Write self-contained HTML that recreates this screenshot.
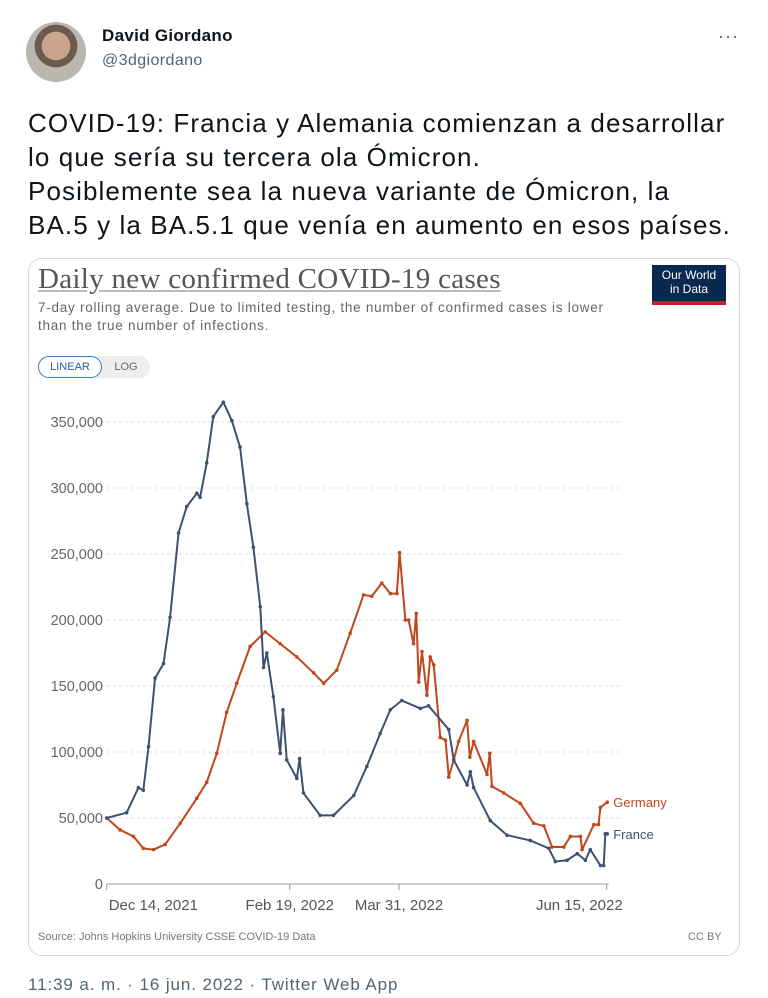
<!DOCTYPE html>
<html><head><meta charset="utf-8"><style>
body{margin:0;width:768px;height:998px;background:#fff;font-family:"Liberation Sans",sans-serif;position:relative;overflow:hidden}
.a{position:absolute}
</style></head><body>
<div class="a" style="left:26px;top:22px;width:60px;height:60px;border-radius:50%;background:radial-gradient(circle at 50% 40%,#c9a58c 0 30%,#6b5a4e 31% 45%,#b9b7b0 46%)"></div>
<div class="a" style="left:102px;top:26px;font-weight:bold;font-size:17px;color:#0f1419;letter-spacing:0.3px">David Giordano</div>
<div class="a" style="left:102px;top:52px;font-size:16px;color:#536471;letter-spacing:0.4px">@3dgiordano</div>
<div class="a" style="left:718px;top:26px;font-size:18px;color:#536471;letter-spacing:1px">···</div>
<div class="a" style="left:28px;top:106px;width:740px;font-size:26px;letter-spacing:1.1px;line-height:34px;color:#0f1419;white-space:nowrap">COVID-19: Francia y Alemania comienzan a desarrollar<br>lo que sería su tercera ola Ómicron.<br>Posiblemente sea la nueva variante de Ómicron, la<br>BA.5 y la BA.5.1 que venía en aumento en esos países.</div>
<div class="a" style="left:28px;top:258px;width:710px;height:696px;border:1px solid #cfd9de;border-radius:14px"></div>
<div class="a" style="left:38px;top:263px;font-family:'Liberation Serif',serif;font-size:29px;letter-spacing:0.3px;color:#555;text-decoration:underline;text-decoration-color:#bbb;white-space:nowrap">Daily new confirmed COVID-19 cases</div>
<div class="a" style="left:652px;top:265px;width:74px;height:40px;background:#0b2850;color:#fff;font-size:12px;line-height:14px;text-align:center;padding-top:3px;box-sizing:border-box;border-bottom:4px solid #c0202f">Our World<br>in Data</div>
<div class="a" style="left:38px;top:299px;font-size:13.5px;letter-spacing:0.75px;line-height:18px;color:#666;white-space:nowrap">7-day rolling average. Due to limited testing, the number of confirmed cases is lower<br>than the true number of infections.</div>
<div class="a" style="left:38px;top:356px;width:112px;height:22px;border-radius:11px;background:#eee"></div>
<div class="a" style="left:38px;top:356px;width:62px;height:20px;border:1px solid #3a7ebf;border-radius:11px;background:#fff;color:#2a5b9b;font-size:11px;line-height:20px;text-align:center">LINEAR</div>
<div class="a" style="left:106px;top:356px;width:40px;height:22px;color:#666;font-size:11px;line-height:22px;text-align:center">LOG</div>
<svg class="a" style="left:0;top:0" width="768" height="998" id="plot"></svg>
<div class="a" style="left:38px;top:931px;font-size:11px;color:#777">Source: Johns Hopkins University CSSE COVID-19 Data</div>
<div class="a" style="left:688px;top:931px;font-size:11px;color:#777">CC BY</div>
<div class="a" style="left:28px;top:975px;font-size:17px;letter-spacing:0.9px;color:#536471;white-space:nowrap">11:39 a. m. · 16 jun. 2022 · Twitter Web App</div>
<script>
const yTicks=[0,50000,100000,150000,200000,250000,300000,350000];
const yTickLabels=["0","50,000","100,000","150,000","200,000","250,000","300,000","350,000"];
const xTicks=[0,67,107,183];
const xTickLabels=["Dec 14, 2021","Feb 19, 2022","Mar 31, 2022","Jun 15, 2022"];
const franceDays=[0,7.3,11.6,13.4,15.3,17.7,20.8,23.2,26.3,29.3,33,34.2,36.6,39,42.7,45.8,48.8,51.3,53.7,56.2,57.4,58.6,61,63.5,64.5,65.9,69.6,70.6,72,78.1,83,90.4,95.2,100.1,103.8,108,114.8,117.8,125.2,127,131.9,133.1,134.3,140.4,146.5,155,161.8,164.2,168.5,172.2,175.2,177,180.7,181.9,182.5,183.2];
const franceCases=[50,54,73,71,104,156,167,202,266,286,296,293,319,354,365,351,331,288,255,210,164,175,142,99,132,94,80,95,69,52,52,67,89,114,132,139,133,135,117,94,75,85,73,48,37,33,27,17,18,23,18,26,14,14,38,38].map(v=>v*1000);
const germanyDays=[0,4.9,9.8,13.4,17.1,21.4,26.9,33,36.6,40.3,43.9,47.6,52.5,58,63.5,69.6,75.7,79.4,84.2,89.1,94,97,100.7,103.8,106.2,107.2,109.3,110.5,112.3,113.3,114.2,115.4,117.2,118.4,119.7,122.1,124,125.2,127,128.8,131.9,132.9,134.3,139.2,140.2,141,145.3,151.4,156.3,160,163,167.3,169.7,173.4,174,178.3,180,180.7,183.2];
const germanyCases=[50,41,36,27,26,30,46,65,77,99,130,152,180,191,182,172,160,152,162,190,219,218,228,220,220,251,200,200,182,205,153,176,143,172,166,111,109,81,94,108,124,96,108,83,99,74,69,61,46,44,28,28,36,36,26,45,45,58,62].map(v=>v*1000);
const svg=document.getElementById('plot');const NS='http://www.w3.org/2000/svg';
const X0=106.7,X1=606.7,D1=183,Y0=884,PX=66/50000;
const xs=d=>X0+(d/D1)*(X1-X0);const ys=v=>Y0-v*PX;
function mk(t,a){const e=document.createElementNS(NS,t);for(const k in a)e.setAttribute(k,a[k]);svg.appendChild(e);return e;}
yTicks.forEach((v,i)=>{
 if(v>0){const g=mk('line',{x1:X0,x2:622,y1:ys(v),y2:ys(v),stroke:'#ddd','stroke-dasharray':'3,3'});
 
 }
 const t=mk('text',{x:103,y:ys(v)+5,'text-anchor':'end','font-size':'14.5','fill':'#666','font-family':'Liberation Sans'});t.textContent=yTickLabels[i];
 
 
});
const ax=mk('line',{x1:X0,x2:X1+2,y1:Y0,y2:Y0,stroke:'#999'});


xTicks.forEach((d,i)=>{
 const tk=mk('line',{x1:xs(d),x2:xs(d),y1:Y0,y2:Y0+6,stroke:'#999'});
 
 
 const anchor=i==0?'start':(i==3?'end':'middle');
 const t=mk('text',{x:i==0?xs(d)+2:(i==3?xs(d)+16:xs(d)),y:910,'text-anchor':anchor,'font-size':'15','fill':'#555','font-family':'Liberation Sans'});t.textContent=xTickLabels[i];
 
 
});
function series(days,vals,color,name,label){
 const p=mk('polyline',{points:days.map((d,i)=>xs(d)+','+ys(vals[i])).join(' '),fill:'none',stroke:color,'stroke-width':'2','stroke-linejoin':'round'});
 
 
 days.forEach((d,i)=>{const c=mk('circle',{cx:xs(d),cy:ys(vals[i]),r:1.8,fill:color});
  
  });
 const n=days.length-1;
 const t=mk('text',{x:xs(days[n])+6,y:ys(vals[n])+5,'font-size':'13','fill':color,'font-family':'Liberation Sans'});t.textContent=label;
 
 
}
series(germanyDays,germanyCases,'#c0471b','germany','Germany');
series(franceDays,franceCases,'#3f5170','france','France');
</script>
</body></html>
